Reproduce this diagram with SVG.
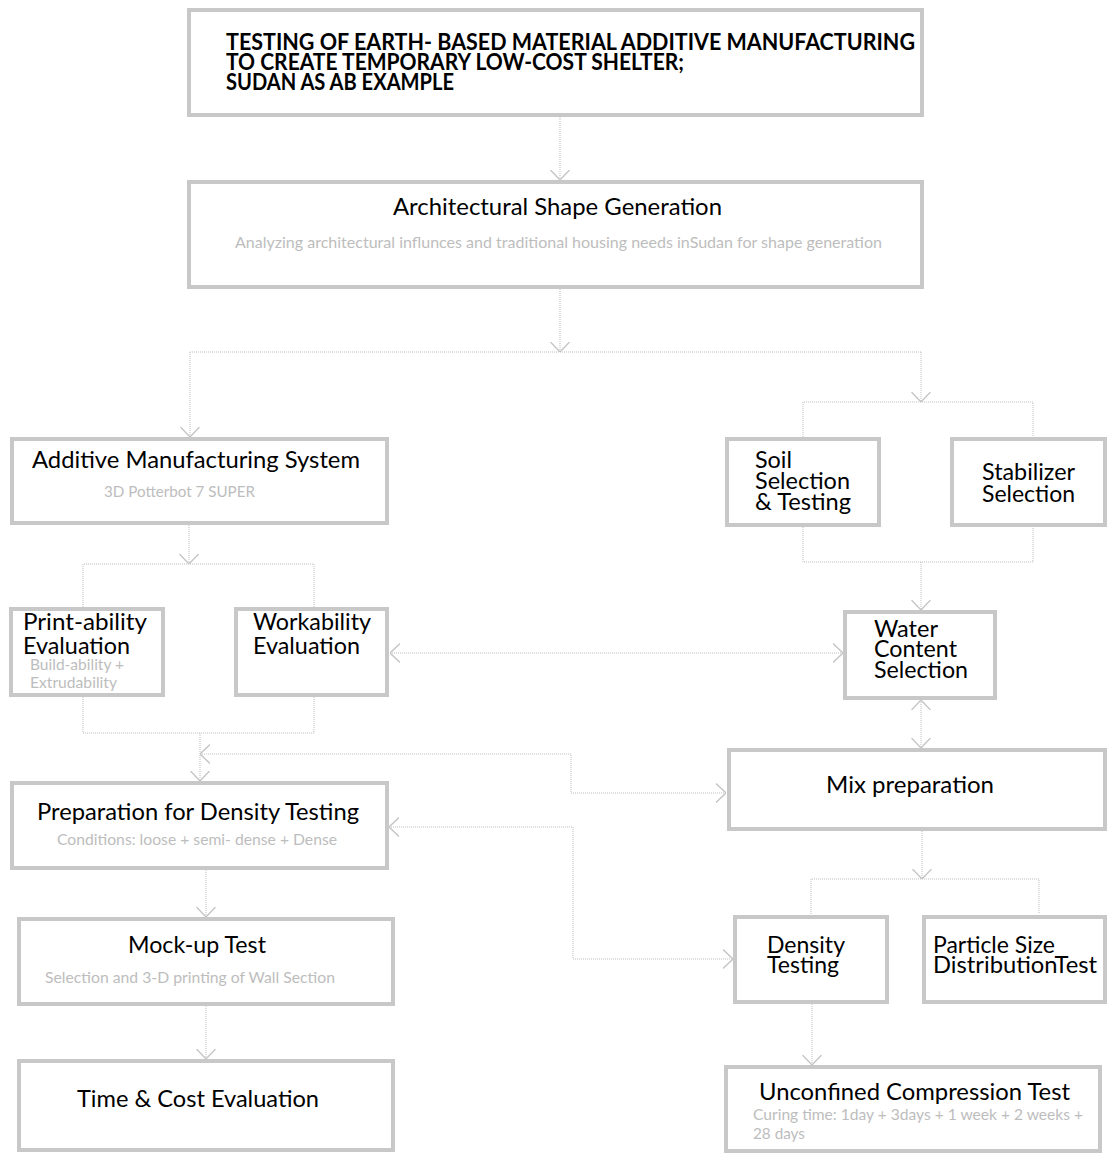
<svg xmlns="http://www.w3.org/2000/svg" width="1107" height="1153" viewBox="0 0 1107 1153">
<style>
.box{fill:#fff;stroke:#c8c8c8;stroke-width:4}
.t{font-family:Lato,"Liberation Sans",sans-serif;font-size:23px;fill:#000}
.tb{font-family:Lato,"Liberation Sans",sans-serif;font-size:22px;font-weight:bold;fill:#000}
.s{font-family:Lato,"Liberation Sans",sans-serif;font-size:16px;fill:#bdbdbd}
.m{text-anchor:middle}
.c{fill:none;stroke:#bdbdbd;stroke-width:1;stroke-dasharray:1 1}
.a{marker-end:url(#ah)}
.aa{marker-start:url(#ah);marker-end:url(#ah)}
</style>
<defs>
<marker id="ah" viewBox="0 0 10 20" refX="10" refY="10" markerWidth="10" markerHeight="20" markerUnits="userSpaceOnUse" orient="auto-start-reverse">
<path d="M0,0.5 L10,10 L0,19.5" fill="none" stroke="#c4c4c4" stroke-width="1.3"/>
</marker>
</defs>
<rect width="1107" height="1153" fill="#fff"/>
<g id="connectors">
<path class="c a" d="M560,117 V180"/>
<path class="c a" d="M560,289 V352"/>
<path class="c" d="M190,352 H921"/>
<path class="c a" d="M190,352 V437"/>
<path class="c a" d="M921,352 V402"/>
<path class="c" d="M803,437 V402 H1033 V437"/>
<path class="c" d="M803,527 V562 H1033 V527"/>
<path class="c a" d="M921,562 V610"/>
<path class="c a" d="M189,525 V564"/>
<path class="c" d="M83,607 V564 H314 V607"/>
<path class="c" d="M83,697 V733 H314 V697"/>
<path class="c a" d="M200,733 V781"/>
<path class="c aa" d="M390,653 H843"/>
<path class="c aa" d="M921,700 V748"/>
<path class="c aa" d="M200,754 H571 V793 H726"/>
<path class="c aa" d="M389,827 H573 V959 H733"/>
<path class="c a" d="M206,870 V917"/>
<path class="c a" d="M206,1006 V1059"/>
<path class="c a" d="M922,831 V879"/>
<path class="c" d="M811,914 V879 H1039 V914"/>
<path class="c a" d="M812,1004 V1065"/>
</g>
<g id="title">
<rect class="box" x="189" y="10" width="733" height="105"/>
<text class="tb" x="226" y="50" textLength="689" lengthAdjust="spacingAndGlyphs">TESTING OF EARTH- BASED MATERIAL ADDITIVE MANUFACTURING</text>
<text class="tb" x="226" y="70" textLength="458" lengthAdjust="spacingAndGlyphs">TO CREATE TEMPORARY LOW-COST SHELTER;</text>
<text class="tb" x="226" y="90" textLength="228" lengthAdjust="spacingAndGlyphs">SUDAN AS AB EXAMPLE</text>
</g>
<g id="arch">
<rect class="box" x="189" y="182" width="733" height="105"/>
<text class="t m" x="557.5" y="215" textLength="329" lengthAdjust="spacingAndGlyphs">Architectural Shape Generation</text>
<text class="s m" x="558.5" y="248" textLength="647" lengthAdjust="spacingAndGlyphs">Analyzing architectural influnces and traditional housing needs inSudan for shape generation</text>
</g>
<g id="ams">
<rect class="box" x="12" y="439" width="375" height="84"/>
<text class="t m" x="196" y="468" textLength="328" lengthAdjust="spacingAndGlyphs">Additive Manufacturing System</text>
<text class="s m" x="179.5" y="497" textLength="151" lengthAdjust="spacingAndGlyphs">3D Potterbot 7 SUPER</text>
</g>
<g id="soil">
<rect class="box" x="727" y="439" width="152" height="86"/>
<text class="t" x="755" y="468" textLength="37" lengthAdjust="spacingAndGlyphs">Soil</text>
<text class="t" x="755" y="489" textLength="95" lengthAdjust="spacingAndGlyphs">Selection</text>
<text class="t" x="755" y="510" textLength="96" lengthAdjust="spacingAndGlyphs">&amp; Testing</text>
</g>
<g id="stabilizer">
<rect class="box" x="952" y="439" width="153" height="86"/>
<text class="t" x="982" y="480" textLength="93" lengthAdjust="spacingAndGlyphs">Stabilizer</text>
<text class="t" x="982" y="502" textLength="93" lengthAdjust="spacingAndGlyphs">Selection</text>
</g>
<g id="printability">
<rect class="box" x="11" y="609" width="152" height="86"/>
<text class="t" x="23" y="630" textLength="124" lengthAdjust="spacingAndGlyphs">Print-ability</text>
<text class="t" x="23" y="654" textLength="107" lengthAdjust="spacingAndGlyphs">Evaluation</text>
<text class="s" x="30" y="670" textLength="94" lengthAdjust="spacingAndGlyphs">Build-ability +</text>
<text class="s" x="30" y="688" textLength="87" lengthAdjust="spacingAndGlyphs">Extrudability</text>
</g>
<g id="workability">
<rect class="box" x="236" y="609" width="151" height="86"/>
<text class="t" x="253" y="630" textLength="118" lengthAdjust="spacingAndGlyphs">Workability</text>
<text class="t" x="253" y="654" textLength="107" lengthAdjust="spacingAndGlyphs">Evaluation</text>
</g>
<g id="water">
<rect class="box" x="845" y="612" width="150" height="86"/>
<text class="t" x="874" y="637" textLength="64" lengthAdjust="spacingAndGlyphs">Water</text>
<text class="t" x="874" y="657" textLength="83" lengthAdjust="spacingAndGlyphs">Content</text>
<text class="t" x="874" y="678" textLength="94" lengthAdjust="spacingAndGlyphs">Selection</text>
</g>
<g id="mix">
<rect class="box" x="729" y="750" width="376" height="79"/>
<text class="t m" x="910" y="793" textLength="168" lengthAdjust="spacingAndGlyphs">Mix preparation</text>
</g>
<g id="prep">
<rect class="box" x="12" y="783" width="375" height="85"/>
<text class="t m" x="198" y="820" textLength="322" lengthAdjust="spacingAndGlyphs">Preparation for Density Testing</text>
<text class="s m" x="197" y="845" textLength="280" lengthAdjust="spacingAndGlyphs">Conditions: loose + semi- dense + Dense</text>
</g>
<g id="mockup">
<rect class="box" x="19" y="919" width="374" height="85"/>
<text class="t m" x="197" y="953" textLength="138" lengthAdjust="spacingAndGlyphs">Mock-up Test</text>
<text class="s m" x="190" y="983" textLength="290" lengthAdjust="spacingAndGlyphs">Selection and 3-D printing of Wall Section</text>
</g>
<g id="timecost">
<rect class="box" x="19" y="1061" width="374" height="89"/>
<text class="t m" x="198" y="1107" textLength="242" lengthAdjust="spacingAndGlyphs">Time &amp; Cost Evaluation</text>
</g>
<g id="density">
<rect class="box" x="735" y="917" width="152" height="85"/>
<text class="t" x="767" y="953" textLength="78" lengthAdjust="spacingAndGlyphs">Density</text>
<text class="t" x="767" y="973" textLength="72" lengthAdjust="spacingAndGlyphs">Testing</text>
</g>
<g id="particle">
<rect class="box" x="924" y="917" width="181" height="85"/>
<text class="t" x="933" y="953" textLength="122" lengthAdjust="spacingAndGlyphs">Particle Size</text>
<text class="t" x="933" y="973" textLength="164" lengthAdjust="spacingAndGlyphs">DistributionTest</text>
</g>
<g id="uct">
<rect class="box" x="726" y="1067" width="374" height="84"/>
<text class="t m" x="914.5" y="1100" textLength="311" lengthAdjust="spacingAndGlyphs">Unconfined Compression Test</text>
<text class="s" x="753" y="1120" textLength="330" lengthAdjust="spacingAndGlyphs">Curing time: 1day + 3days + 1 week + 2 weeks +</text>
<text class="s" x="753" y="1139" textLength="52" lengthAdjust="spacingAndGlyphs">28 days</text>
</g>
</svg>
